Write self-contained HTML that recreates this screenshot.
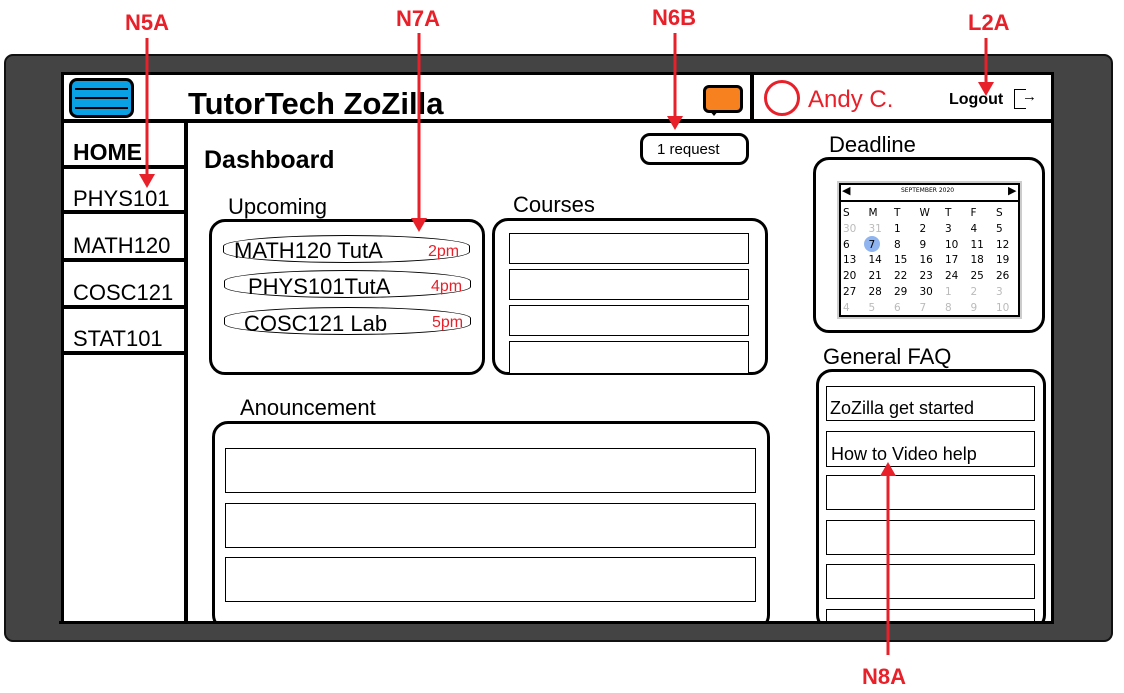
<!DOCTYPE html>
<html><head><meta charset="utf-8"><style>
*{box-sizing:border-box;margin:0;padding:0}
body{width:1124px;height:693px;background:#fff;position:relative;overflow:hidden;font-family:"Liberation Sans",sans-serif}
.a{position:absolute}
.t{position:absolute;white-space:nowrap;color:#000}
.rb{position:absolute;border:1.5px solid #000;background:#fff}
.rr{position:absolute;border:3px solid #000;border-radius:16px;background:#fff}
.lab{position:absolute;color:#e8202a;font-weight:bold;font-size:22px}
.cal{position:absolute;font-size:10px;font-family:"DejaVu Sans",sans-serif}
</style></head><body>
<div class="a" style="left:4px;top:54px;width:1109px;height:588px;background:#444;border:2px solid #111;border-radius:9px"></div>
<div class="a" style="left:61px;top:72px;width:993px;height:552px;background:#fff;border:3px solid #000"></div>
<!-- header -->
<div class="a" style="left:61px;top:119px;width:993px;height:4px;background:#000"></div>
<div class="a" style="left:750px;top:75px;width:4px;height:46px;background:#000"></div>
<div class="a" style="left:69px;top:78px;width:65px;height:40px;background:#0aa0e6;border:3px solid #000;border-radius:8px"></div>
<div class="a" style="left:75px;top:88px;width:53px;height:2px;background:#000"></div>
<div class="a" style="left:75px;top:97px;width:53px;height:2px;background:#000"></div>
<div class="a" style="left:75px;top:107px;width:53px;height:2px;background:#000"></div>
<div class="t" style="left:188px;top:86px;font-size:31px;font-weight:bold">TutorTech ZoZilla</div>
<div class="a" style="left:703px;top:85px;width:40px;height:28px;background:#f7801f;border:3px solid #000;border-radius:6px"></div>
<div class="a" style="left:709px;top:110px;width:0;height:0;border-left:5px solid transparent;border-right:5px solid transparent;border-top:6px solid #000"></div>
<div class="a" style="left:764px;top:80px;width:36px;height:36px;border:3px solid #e8202a;border-radius:50%"></div>
<div class="t" style="left:808px;top:86px;font-size:24px;color:#e8202a">Andy C.</div>
<div class="t" style="left:949px;top:91px;font-size:16px;font-weight:bold">Logout</div>
<div class="a" style="left:1014px;top:89px;width:12px;height:20px;border:1.5px solid #000;border-right:none"></div>
<div class="t" style="left:1022px;top:88px;font-size:15px">→</div>
<!-- sidebar -->
<div class="a" style="left:184px;top:121px;width:4px;height:503px;background:#000"></div>
<div class="t" style="left:73px;top:139px;font-size:23px;font-weight:bold">HOME</div>
<div class="a" style="left:62px;top:165px;width:124px;height:4px;background:#000"></div>
<div class="t" style="left:73px;top:186px;font-size:22px">PHYS101</div>
<div class="a" style="left:62px;top:210px;width:124px;height:4px;background:#000"></div>
<div class="t" style="left:73px;top:233px;font-size:22px">MATH120</div>
<div class="a" style="left:62px;top:258px;width:124px;height:4px;background:#000"></div>
<div class="t" style="left:73px;top:280px;font-size:22px">COSC121</div>
<div class="a" style="left:62px;top:305px;width:124px;height:4px;background:#000"></div>
<div class="t" style="left:73px;top:326px;font-size:22px">STAT101</div>
<div class="a" style="left:62px;top:351px;width:124px;height:4px;background:#000"></div>
<!-- dashboard -->
<div class="t" style="left:204px;top:146px;font-size:25px;font-weight:bold">Dashboard</div>
<div class="a" style="left:640px;top:133px;width:109px;height:32px;border:3px solid #000;border-radius:10px;background:#fff"></div>
<div class="t" style="left:657px;top:141px;font-size:15px">1 request</div>
<div class="t" style="left:228px;top:194px;font-size:22px">Upcoming</div>
<div class="rr" style="left:209px;top:219px;width:276px;height:156px"></div>
<div class="a" style="left:223px;top:235px;width:247px;height:28px;border:1px solid #000;border-radius:50%/40%"></div>
<div class="t" style="left:234px;top:238px;font-size:22px">MATH120 TutA</div>
<div class="t" style="left:428px;top:243px;font-size:16px;color:#e8202a">2pm</div>
<div class="a" style="left:224px;top:270px;width:247px;height:28px;border:1px solid #000;border-radius:50%/40%"></div>
<div class="t" style="left:248px;top:274px;font-size:22px">PHYS101TutA</div>
<div class="t" style="left:431px;top:278px;font-size:16px;color:#e8202a">4pm</div>
<div class="a" style="left:224px;top:307px;width:247px;height:28px;border:1px solid #000;border-radius:50%/40%"></div>
<div class="t" style="left:244px;top:311px;font-size:22px">COSC121 Lab</div>
<div class="t" style="left:432px;top:314px;font-size:16px;color:#e8202a">5pm</div>
<div class="t" style="left:513px;top:192px;font-size:22px">Courses</div>
<div class="rr" style="left:492px;top:218px;width:276px;height:157px"></div>
<div class="rb" style="left:509px;top:233px;width:240px;height:31px"></div>
<div class="rb" style="left:509px;top:269px;width:240px;height:31px"></div>
<div class="rb" style="left:509px;top:305px;width:240px;height:31px"></div>
<div class="rb" style="left:509px;top:341px;width:240px;height:32px;border-bottom:none"></div>
<div class="t" style="left:240px;top:395px;font-size:22px">Anouncement</div>
<div class="rr" style="left:212px;top:421px;width:558px;height:210px"></div>
<div class="rb" style="left:225px;top:448px;width:531px;height:45px"></div>
<div class="rb" style="left:225px;top:503px;width:531px;height:45px"></div>
<div class="rb" style="left:225px;top:557px;width:531px;height:45px"></div>
<!-- right -->
<div class="t" style="left:829px;top:132px;font-size:22px">Deadline</div>
<div class="rr" style="left:813px;top:157px;width:232px;height:176px"></div>
<div class="a" style="left:837px;top:181px;width:185px;height:138px;background:#ccc"></div>
<div class="a" style="left:839px;top:183px;width:181px;height:134px;background:#fff;border:2px solid #000"></div>
<div class="a" style="left:839px;top:200px;width:181px;height:2px;background:#000"></div>
<div class="cal" style="left:842px;top:184px;font-size:11px">◀</div>
<div class="cal" style="left:1008px;top:184px;font-size:11px">▶</div>
<div class="cal" style="left:901px;top:187px;font-size:6px">SEPTEMBER 2020</div>
<div class="a" style="left:864px;top:236px;width:16px;height:16px;border-radius:50%;background:#8fb4f0"></div>
<div class="cal" style="left:843px;top:206px;line-height:15.8px;font-size:10.5px">
<div style="display:grid;grid-template-columns:repeat(7,25.5px)">
<span>S</span><span>M</span><span>T</span><span>W</span><span>T</span><span>F</span><span>S</span>
<span style="color:#bbb">30</span><span style="color:#bbb">31</span><span>1</span><span>2</span><span>3</span><span>4</span><span>5</span>
<span>6</span><span>7</span><span>8</span><span>9</span><span>10</span><span>11</span><span>12</span>
<span>13</span><span>14</span><span>15</span><span>16</span><span>17</span><span>18</span><span>19</span>
<span>20</span><span>21</span><span>22</span><span>23</span><span>24</span><span>25</span><span>26</span>
<span>27</span><span>28</span><span>29</span><span>30</span><span style="color:#bbb">1</span><span style="color:#bbb">2</span><span style="color:#bbb">3</span>
<span style="color:#bbb">4</span><span style="color:#bbb">5</span><span style="color:#bbb">6</span><span style="color:#bbb">7</span><span style="color:#bbb">8</span><span style="color:#bbb">9</span><span style="color:#bbb">10</span>
</div></div>
<div class="t" style="left:823px;top:344px;font-size:22px">General FAQ</div>
<div class="rr" style="left:816px;top:369px;width:230px;height:262px"></div>
<div class="rb" style="left:826px;top:386px;width:209px;height:35px"></div>
<div class="t" style="left:830px;top:398px;font-size:18px">ZoZilla get started</div>
<div class="rb" style="left:826px;top:431px;width:209px;height:36px"></div>
<div class="t" style="left:831px;top:444px;font-size:18px">How to Video help</div>
<div class="rb" style="left:826px;top:475px;width:209px;height:35px"></div>
<div class="rb" style="left:826px;top:520px;width:209px;height:35px"></div>
<div class="rb" style="left:826px;top:564px;width:209px;height:35px"></div>
<div class="rb" style="left:826px;top:609px;width:209px;height:20px"></div>
<!-- cover bottom of screen -->
<div class="a" style="left:59px;top:621px;width:995px;height:3px;background:#000"></div>
<div class="a" style="left:6px;top:624px;width:1105px;height:16px;background:#444;border-radius:0 0 8px 8px"></div>
<!-- labels / arrows -->
<div class="lab" style="left:125px;top:10px">N5A</div>
<div class="lab" style="left:396px;top:6px">N7A</div>
<div class="lab" style="left:652px;top:5px">N6B</div>
<div class="lab" style="left:968px;top:10px">L2A</div>
<div class="lab" style="left:862px;top:664px">N8A</div>
<svg class="a" style="left:0;top:0" width="1124" height="693">
<g stroke="#e8202a" stroke-width="3" fill="#e8202a">
<line x1="147" y1="38" x2="147" y2="176"/><polygon points="139,174 155,174 147,188" stroke="none"/>
<line x1="419" y1="33" x2="419" y2="220"/><polygon points="411,218 427,218 419,232" stroke="none"/>
<line x1="675" y1="33" x2="675" y2="118"/><polygon points="667,116 683,116 675,130" stroke="none"/>
<line x1="986" y1="38" x2="986" y2="84"/><polygon points="978,82 994,82 986,96" stroke="none"/>
<line x1="888" y1="655" x2="888" y2="475"/><polygon points="880,476 896,476 888,462" stroke="none"/>
</g></svg>
</body></html>
